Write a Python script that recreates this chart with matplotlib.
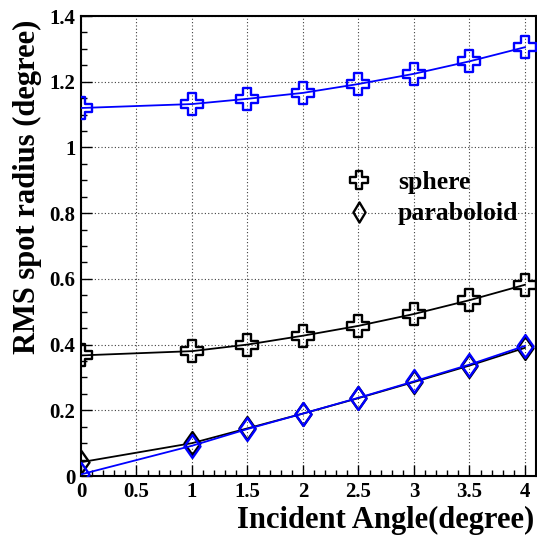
import numpy as np
import matplotlib
matplotlib.use('Agg')
import matplotlib.pyplot as plt
from matplotlib.path import Path
from matplotlib.ticker import MultipleLocator, FuncFormatter

# incident angles (degree)
angles = [0, 1, 1.5, 2, 2.5, 3, 3.5, 4]

# RMS spot radius (degree)
sphere_black = [0.367, 0.380, 0.400, 0.427, 0.457, 0.493, 0.535, 0.582]
sphere_blue = [1.120, 1.132, 1.148, 1.166, 1.193, 1.224, 1.262, 1.305]
parab_black = [0.042, 0.100, 0.145, 0.190, 0.237, 0.286, 0.336, 0.390]
parab_blue = [0.005, 0.092, 0.143, 0.190, 0.238, 0.288, 0.339, 0.396]

legend_labels = ['sphere', 'paraboloid']

plt.rcParams['font.family'] = ['Liberation Serif', 'DejaVu Serif']
plt.rcParams['font.weight'] = 'bold'

# ROOT-like open cross / open diamond markers
a = 0.33
cross = Path([(-a, 1), (a, 1), (a, a), (1, a), (1, -a), (a, -a), (a, -1),
              (-a, -1), (-a, -a), (-1, -a), (-1, a), (-a, a), (-a, 1)], closed=True)
diamond = Path([(0, 1), (0.7, 0), (0, -1), (-0.7, 0), (0, 1)], closed=True)
diamond_leg = Path([(0, 1), (0.6, 0), (0, -1), (-0.6, 0), (0, 1)], closed=True)

fig = plt.figure(figsize=(5.37, 5.40), dpi=100)
ax = fig.add_axes([81 / 537, 64 / 540, 455 / 537, 460 / 540])

# black curves first, blue on top
ax.plot(angles, sphere_black, color='black', lw=1.3, marker=cross, ms=16.5,
        mfc='none', mec='black', mew=1.7, zorder=3)
ax.plot(angles, parab_black, color='black', lw=1.3, marker=diamond, ms=16.5,
        mfc='none', mec='black', mew=1.7, zorder=3)
ax.plot(angles, sphere_blue, color='#0000ff', lw=1.3, marker=cross, ms=16.5,
        mfc='none', mec='#0000ff', mew=1.7, zorder=4)
ax.plot(angles, parab_blue, color='#0000ff', lw=1.3, marker=diamond, ms=16.5,
        mfc='none', mec='#0000ff', mew=1.7, zorder=4)

ax.set_xlim(0, 4.1)
ax.set_ylim(0, 1.4)
ax.xaxis.set_major_locator(MultipleLocator(0.5))
ax.xaxis.set_minor_locator(MultipleLocator(0.1))
ax.yaxis.set_major_locator(MultipleLocator(0.2))
ax.yaxis.set_minor_locator(MultipleLocator(0.05))
ax.xaxis.set_major_formatter(FuncFormatter(lambda v, p: '%g' % v))
ax.yaxis.set_major_formatter(FuncFormatter(lambda v, p: '%g' % v))

ax.tick_params(which='both', direction='in', top=False, right=False,
               labelsize=15, width=1.0)
ax.tick_params(which='major', length=8, pad=4)
ax.tick_params(which='minor', length=4)
for sp in ax.spines.values():
    sp.set_linewidth(1.5)

ax.grid(True, which='major', color='0.25', linestyle=(0, (1, 2)), lw=0.8)
ax.set_axisbelow(True)

ax.set_xlabel('Incident Angle(degree)', fontsize=22, fontweight='bold')
ax.xaxis.set_label_coords(453 / 455, -52 / 460)
ax.xaxis.label.set_horizontalalignment('right')
ax.xaxis.label.set_verticalalignment('baseline')
ax.set_ylabel('RMS spot radius (degree)', fontsize=22, fontweight='bold')
ax.yaxis.set_label_coords(-0.1, 0.992)
ax.yaxis.label.set_verticalalignment('baseline')
ax.yaxis.label.set_horizontalalignment('right')

h1, = ax.plot([], [], ls='none', marker=cross, ms=13.5, mfc='none', mec='black', mew=1.7)
h2, = ax.plot([], [], ls='none', marker=diamond_leg, ms=14.5, mfc='none', mec='black', mew=1.7)
ax.legend([h1, h2], legend_labels, loc='center left', frameon=False,
          bbox_to_anchor=(331 / 537, 1 - 198 / 540), bbox_transform=fig.transFigure,
          fontsize=18.5, handlelength=1.2, handletextpad=0.9, labelspacing=0.35,
          borderpad=0)

fig.savefig('out.png', dpi=100)
